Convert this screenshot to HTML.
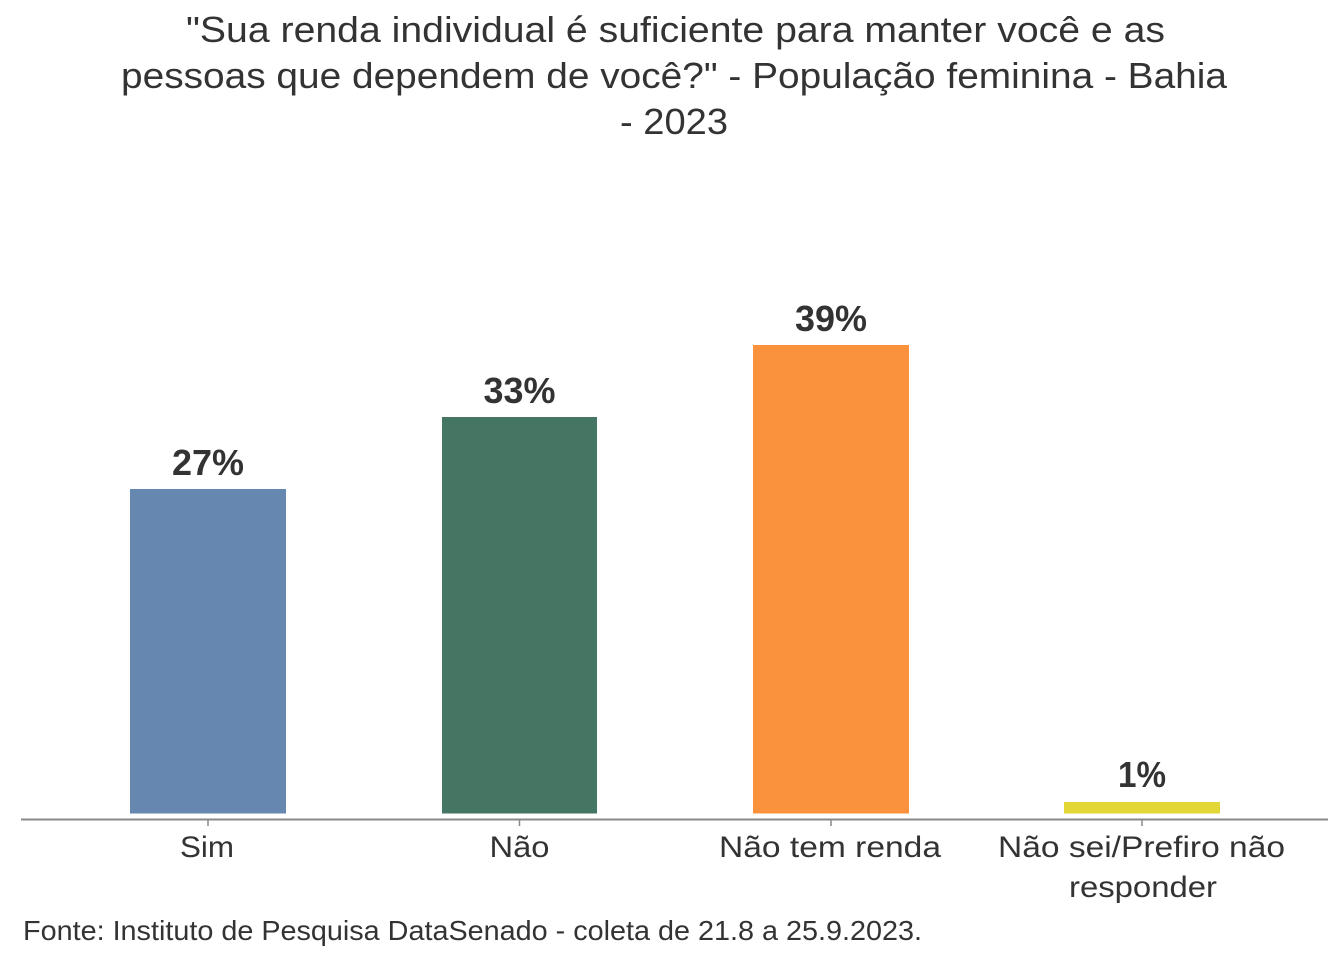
<!DOCTYPE html>
<html>
<head>
<meta charset="utf-8">
<style>
  html, body { margin: 0; padding: 0; background: #ffffff; }
  svg { display: block; }
  text { font-family: "Liberation Sans", Arial, sans-serif; fill: #333333; }
</style>
</head>
<body>
<svg width="1344" height="960" viewBox="0 0 1344 960" xmlns="http://www.w3.org/2000/svg">
  <rect x="0" y="0" width="1344" height="960" fill="#ffffff"/>

  <!-- Title -->
  <text x="186" y="42" font-size="36" textLength="979" lengthAdjust="spacingAndGlyphs">"Sua renda individual é suficiente para manter você e as</text>
  <text x="121" y="88" font-size="36" textLength="1106" lengthAdjust="spacingAndGlyphs">pessoas que dependem de você?" - População feminina - Bahia</text>
  <text x="620" y="134" font-size="36" textLength="108" lengthAdjust="spacingAndGlyphs">- 2023</text>

  <!-- Bars -->
  <rect x="130" y="489" width="156" height="324.5" fill="#6688B0"/>
  <rect x="442" y="417" width="155" height="396.5" fill="#457563"/>
  <rect x="753" y="345" width="156" height="468.5" fill="#FA913C"/>
  <rect x="1064" y="802" width="156" height="11.5" fill="#E3D738"/>

  <!-- Value labels -->
  <text x="208" y="475" font-size="36" font-weight="bold" text-anchor="middle" textLength="72" lengthAdjust="spacingAndGlyphs">27%</text>
  <text x="519.5" y="403" font-size="36" font-weight="bold" text-anchor="middle" textLength="72" lengthAdjust="spacingAndGlyphs">33%</text>
  <text x="831" y="331" font-size="36" font-weight="bold" text-anchor="middle" textLength="72" lengthAdjust="spacingAndGlyphs">39%</text>
  <text x="1142" y="787" font-size="36" font-weight="bold" text-anchor="middle" textLength="48" lengthAdjust="spacingAndGlyphs">1%</text>

  <!-- Axis -->
  <line x1="21" y1="819.5" x2="1328" y2="819.5" stroke="#898989" stroke-width="2"/>
  <line x1="208" y1="820" x2="208" y2="826" stroke="#898989" stroke-width="1.5"/>
  <line x1="519.5" y1="820" x2="519.5" y2="826" stroke="#898989" stroke-width="1.5"/>
  <line x1="831" y1="820" x2="831" y2="826" stroke="#898989" stroke-width="1.5"/>
  <line x1="1142" y1="820" x2="1142" y2="826" stroke="#898989" stroke-width="1.5"/>

  <!-- Category labels -->
  <text x="207" y="857" font-size="30" text-anchor="middle" textLength="54" lengthAdjust="spacingAndGlyphs">Sim</text>
  <text x="519.5" y="857" font-size="30" text-anchor="middle" textLength="60" lengthAdjust="spacingAndGlyphs">Não</text>
  <text x="830" y="857" font-size="30" text-anchor="middle" textLength="222" lengthAdjust="spacingAndGlyphs">Não tem renda</text>
  <text x="1141.5" y="857" font-size="30" text-anchor="middle" textLength="287" lengthAdjust="spacingAndGlyphs">Não sei/Prefiro não</text>
  <text x="1143" y="897" font-size="30" text-anchor="middle" textLength="148" lengthAdjust="spacingAndGlyphs">responder</text>

  <!-- Footer -->
  <text x="23" y="940" font-size="28" textLength="899" lengthAdjust="spacingAndGlyphs">Fonte: Instituto de Pesquisa DataSenado - coleta de 21.8 a 25.9.2023.</text>
</svg>
</body>
</html>
